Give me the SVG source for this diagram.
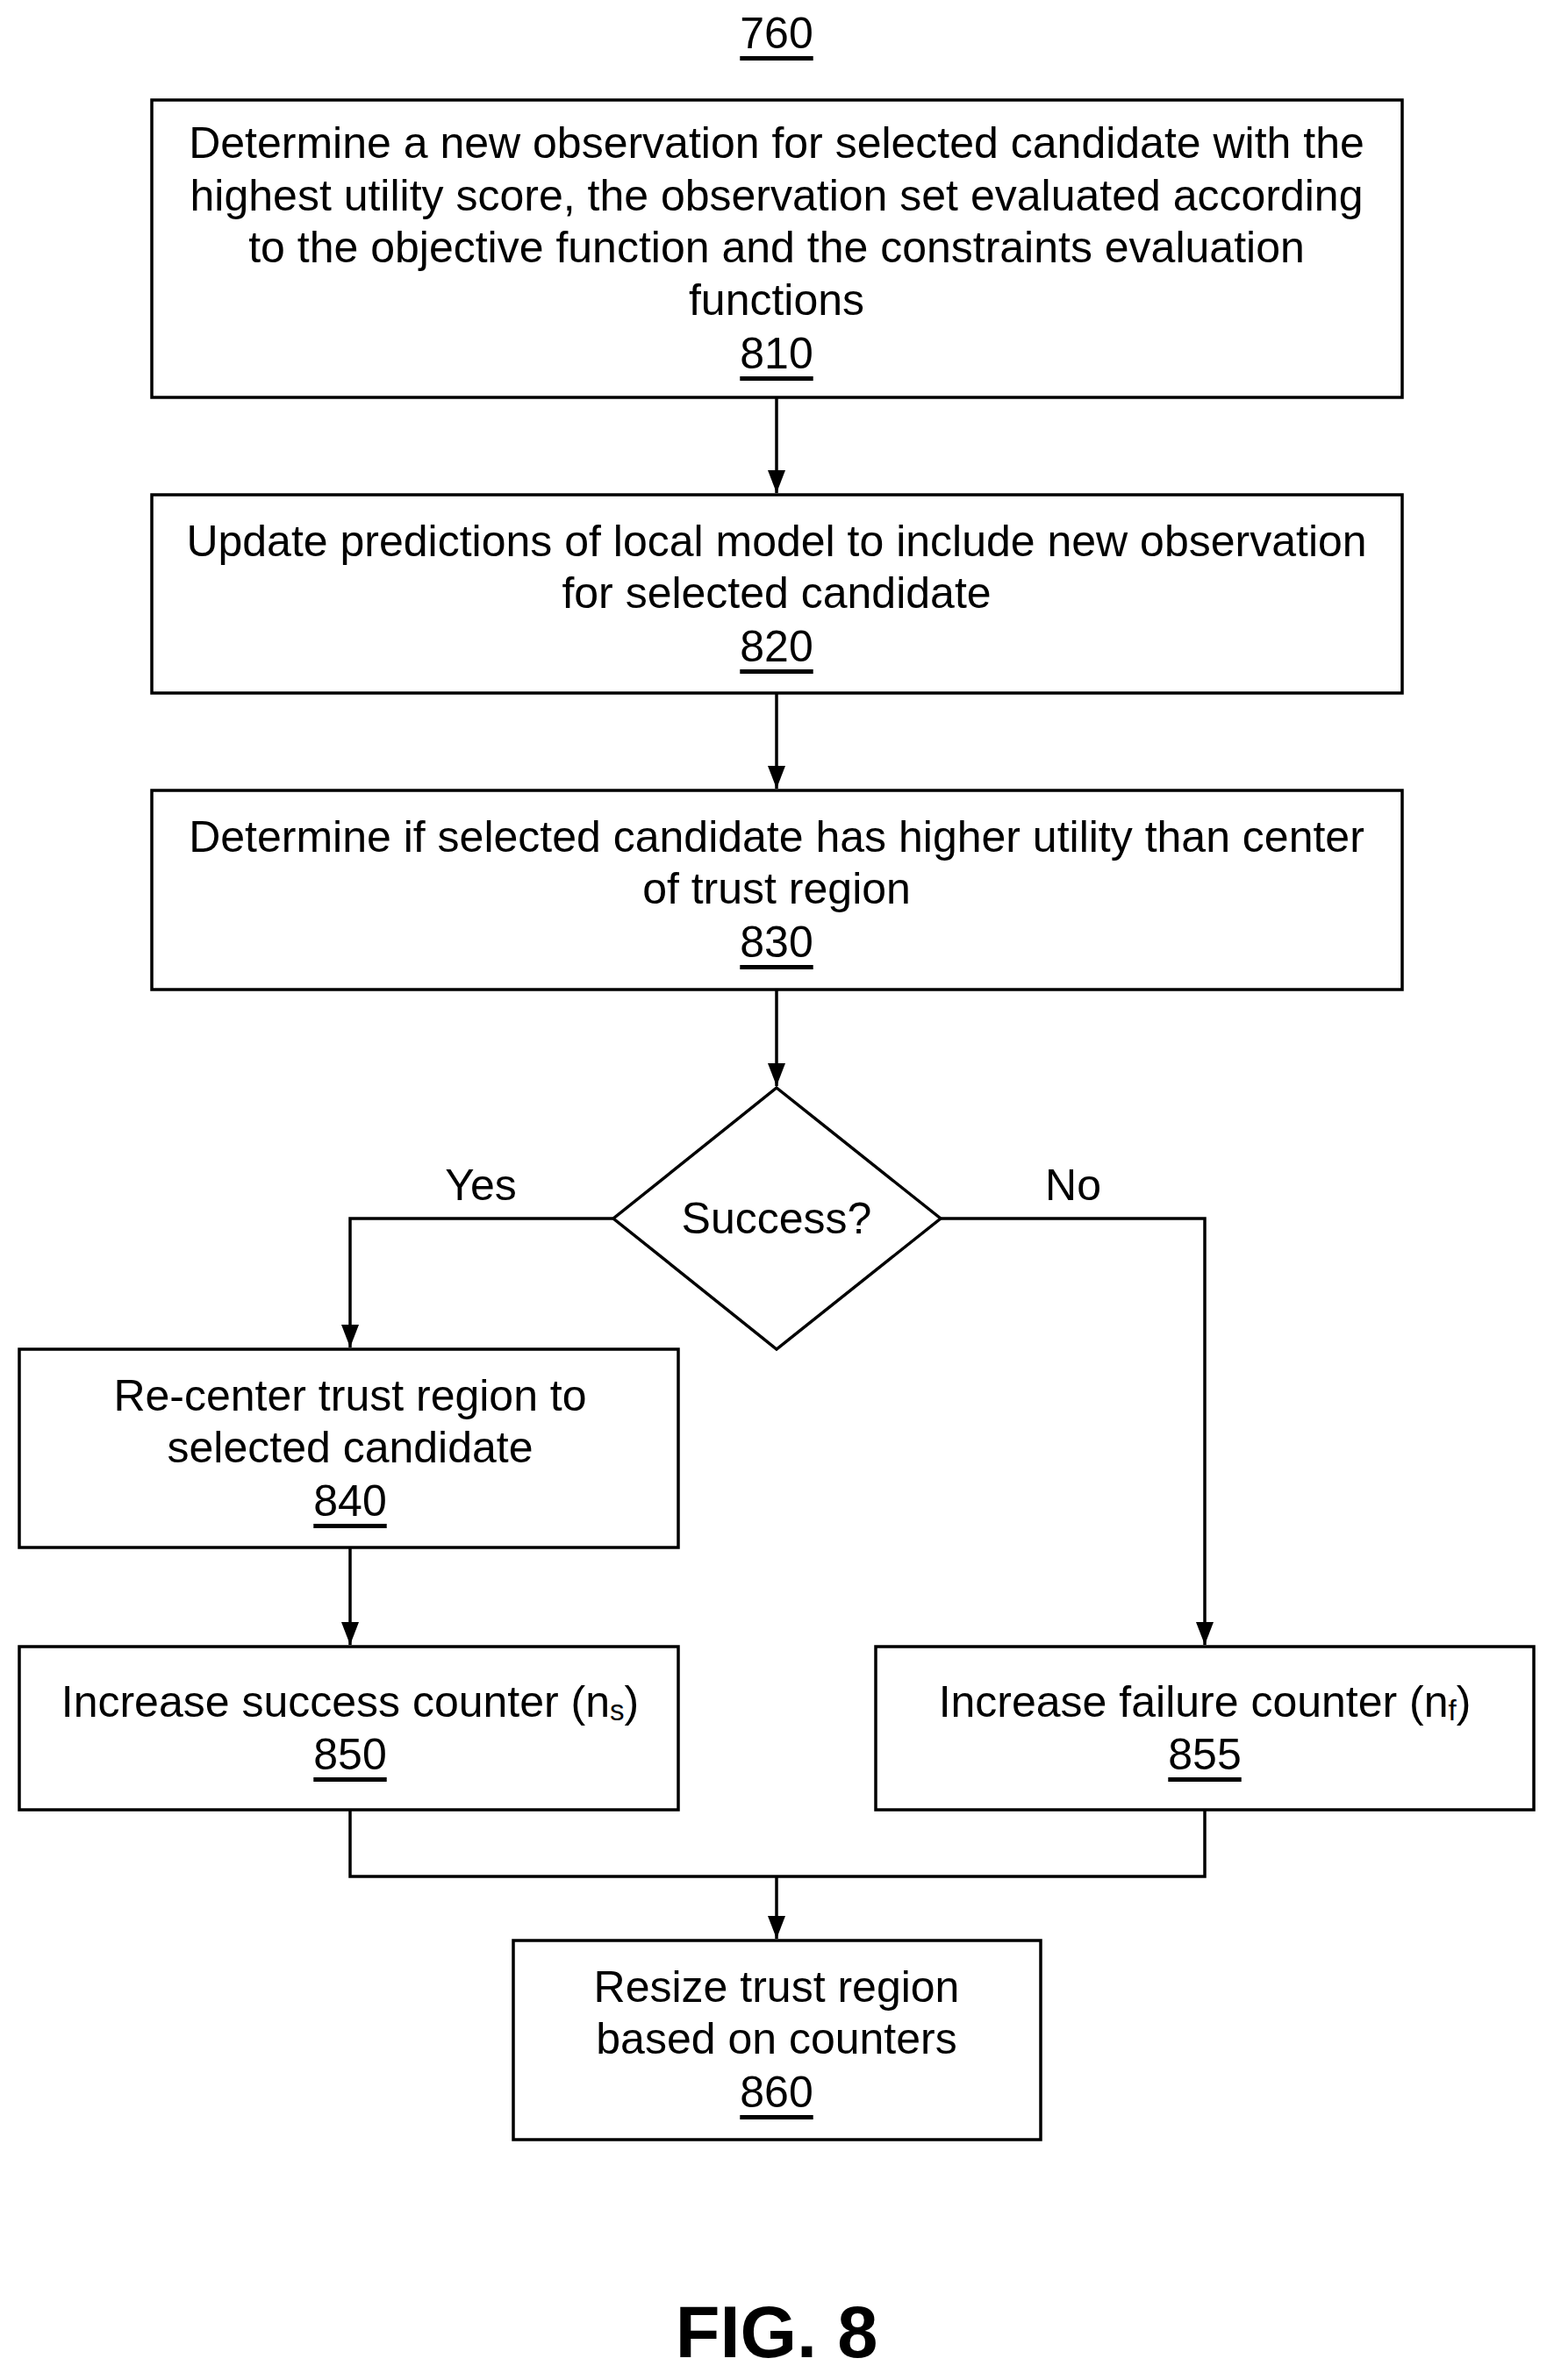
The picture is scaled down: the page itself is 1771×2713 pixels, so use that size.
<svg xmlns="http://www.w3.org/2000/svg" width="1771" height="2713" viewBox="0 0 1771 2713">
<style>
.b{fill:#fff;stroke:#000;stroke-width:3.5}
.t{font-family:"Liberation Sans",Arial,sans-serif;font-size:50px;text-anchor:middle;dominant-baseline:central;fill:#000}
.u{text-decoration:underline}
.c{fill:none;stroke:#000;stroke-width:3.5}
</style>
<defs>
<marker id="m" markerWidth="28" markerHeight="28" refX="26" refY="14" orient="auto" markerUnits="userSpaceOnUse"><path d="M0,4 L26,14 L0,24 Z" fill="#000"/></marker></defs>
<rect width="1771" height="2713" fill="#fff"/>
<text class="t u" x="885" y="38">760</text>
<g id="connectors">
<path class="c" d="M885,453 V562" marker-end="url(#m)"/>
<path class="c" d="M885,790 V899" marker-end="url(#m)"/>
<path class="c" d="M885,1128 V1238" marker-end="url(#m)"/>
<path class="c" d="M699,1389 H399 V1536" marker-end="url(#m)"/>
<path class="c" d="M1072,1389 H1373 V1875" marker-end="url(#m)"/>
<path class="c" d="M399,1764 V1875" marker-end="url(#m)"/>
<path class="c" d="M399,2063 V2139 H1373 V2063"/>
<path class="c" d="M885,2139 V2210" marker-end="url(#m)"/>
<text class="t" x="548" y="1351">Yes</text>
<text class="t" x="1223" y="1351">No</text>
</g>
<g id="n810"><rect class="b" x="173" y="114" width="1425" height="339"/>
<text class="t" x="885" y="163">Determine a new observation for selected candidate with the</text>
<text class="t" x="885" y="223">highest utility score, the observation set evaluated according</text>
<text class="t" x="885" y="282">to the objective function and the constraints evaluation</text>
<text class="t" x="885" y="342">functions</text>
<text class="t u" x="885" y="403">810</text></g>
<g id="n820"><rect class="b" x="173" y="564" width="1425" height="226"/>
<text class="t" x="885" y="617">Update predictions of local model to include new observation</text>
<text class="t" x="885" y="676">for selected candidate</text>
<text class="t u" x="885" y="737">820</text></g>
<g id="n830"><rect class="b" x="173" y="901" width="1425" height="227"/>
<text class="t" x="885" y="954">Determine if selected candidate has higher utility than center</text>
<text class="t" x="885" y="1013">of trust region</text>
<text class="t u" x="885" y="1074">830</text></g>
<g id="dec"><polygon class="b" points="885,1240 1072,1389 885,1538 699,1389"/>
<text class="t" x="885" y="1389">Success?</text></g>
<g id="n840"><rect class="b" x="22" y="1538" width="751" height="226"/>
<text class="t" x="399" y="1591">Re-center trust region to</text>
<text class="t" x="399" y="1650">selected candidate</text>
<text class="t u" x="399" y="1711">840</text></g>
<g id="n850"><rect class="b" x="22" y="1877" width="751" height="186"/>
<text class="t" x="399" y="1940">Increase success counter (n<tspan font-size="33" dy="9">s</tspan><tspan dy="-9">)</tspan></text>
<text class="t u" x="399" y="2000">850</text></g>
<g id="n855"><rect class="b" x="998" y="1877" width="750" height="186"/>
<text class="t" x="1373" y="1940">Increase failure counter (n<tspan font-size="33" dy="9">f</tspan><tspan dy="-9">)</tspan></text>
<text class="t u" x="1373" y="2000">855</text></g>
<g id="n860"><rect class="b" x="585" y="2212" width="601" height="227"/>
<text class="t" x="885" y="2265">Resize trust region</text>
<text class="t" x="885" y="2324">based on counters</text>
<text class="t u" x="885" y="2385">860</text></g>
<text class="t" x="885" y="2658" style="font-size:83px;font-weight:bold">FIG. 8</text>
</svg>
